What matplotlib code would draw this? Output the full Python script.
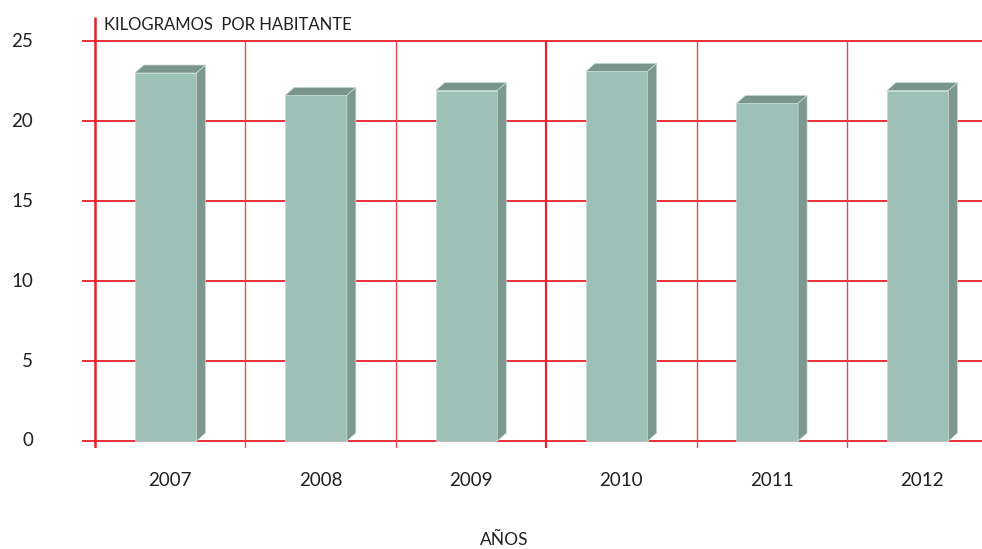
import matplotlib
matplotlib.use("Agg")
from matplotlib import pyplot as plt
from matplotlib.patches import Polygon

# data
years = ['2007', '2008', '2009', '2010', '2011', '2012']
kg_per_person = [23.0, 21.6, 21.9, 23.1, 21.1, 21.9]
y_ticks = [0, 5, 10, 15, 20, 25]

FRONT = '#9dc0b7'
TOP = '#79958c'
SIDE = '#7c988f'
RED = '#e8202a'
TEXT = '#231f20'

plt.rcParams['font.family'] = ['Lato', 'DejaVu Sans']

fig = plt.figure(figsize=(9.82, 5.49), dpi=100)
# axes box in pixels: x 82..982, y 17..448 (top origin)
W, H = 982, 549
ax = fig.add_axes([82 / W, 1 - 448 / H, 900 / W, 431 / H])
ax.set_xlim(-0.586, 5.398)
ax.set_ylim(-0.4375, 26.5)
ax.axis('off')

# grid
for v in y_ticks:
    ax.axhline(v, color=RED, lw=1.3, zorder=1)
ax.vlines(-0.5, -0.4375, 26.5, color=RED, lw=1.8, zorder=1)
for i in range(1, len(years)):
    strong = i == 3
    ax.vlines(i - 0.5, -0.4375, 25, color=RED if strong else '#ec4650',
              lw=1.6 if strong else 1.0, zorder=1)

# pseudo 3D bars
dx, dy = 0.06, 0.5
width = 0.41
x = [i - 0.03 for i in range(len(years))]
ax.bar(x, kg_per_person, width=width, color=FRONT, edgecolor='#c8dcd6',
       linewidth=0.5, zorder=3)
for xi, v in zip(x, kg_per_person):
    l, r = xi - width / 2, xi + width / 2
    ax.add_patch(Polygon([(l, v), (r, v), (r + dx, v + dy), (l + dx, v + dy)],
                         closed=True, facecolor=TOP, edgecolor='#c8dcd6',
                         lw=0.5, zorder=3))
    ax.add_patch(Polygon([(r, 0), (r, v), (r + dx, v + dy), (r + dx, dy)],
                         closed=True, facecolor=SIDE, edgecolor='#c8dcd6',
                         lw=0.5, zorder=3))

# labels
for v in y_ticks:
    ax.text(-0.91, v, str(v), ha='right', va='center', fontsize=13.5, color=TEXT)
for i, yr in enumerate(years):
    ax.text(i, -2.45, yr, ha='center', va='center', fontsize=13.5, color=TEXT)

ax.text(-0.44, 26.0, 'KILOGRAMOS  POR HABITANTE', ha='left', va='center',
        fontsize=12, color=TEXT)
fig.text(504 / W, 1 - 540 / H, 'AÑOS', ha='center', va='center',
         fontsize=12.5, color=TEXT)

fig.savefig('out.png', dpi=100)
